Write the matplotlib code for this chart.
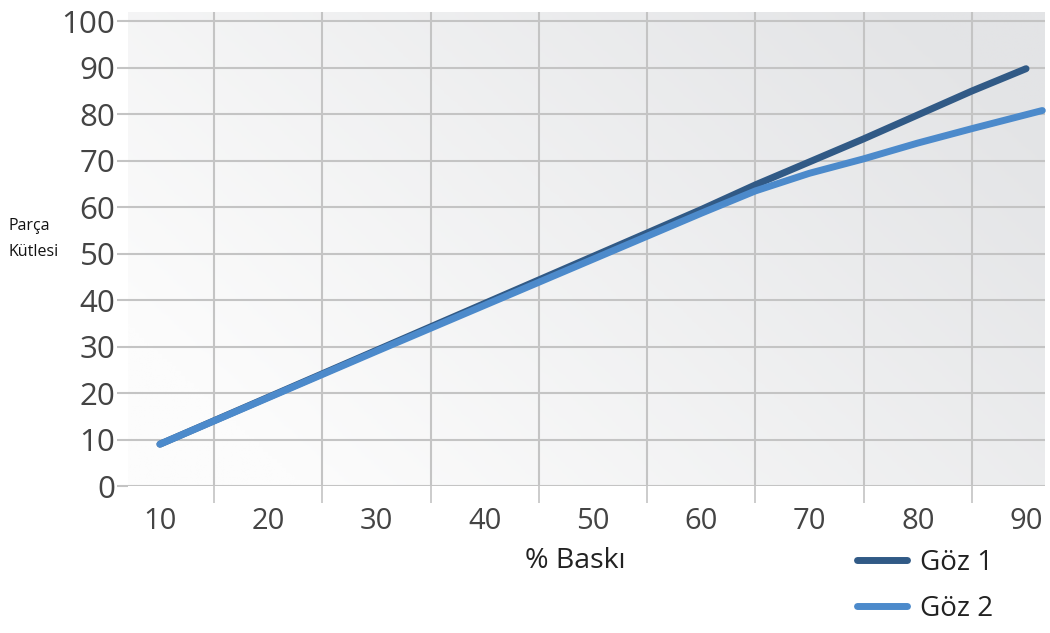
import numpy as np
import matplotlib
matplotlib.use("Agg")
import matplotlib.pyplot as plt
from matplotlib.colors import LinearSegmentedColormap

plt.rcParams['font.family'] = ['Open Sans', 'DejaVu Sans']

# Data
x_goz1 = [10, 20, 30, 40, 50, 60, 65, 75, 85, 90]
y_goz1 = [9, 19.1, 29.2, 39.3, 49.4, 59.5, 64.8, 74.7, 85.0, 89.8]
x_goz2 = [10, 20, 30, 40, 50, 60, 65, 70, 75, 80, 85, 91.5]
y_goz2 = [9, 19, 29, 38.9, 48.8, 58.7, 63.5, 67.3, 70.4, 73.8, 76.9, 80.8]
x_ticks = [10, 20, 30, 40, 50, 60, 70, 80, 90]
y_ticks = [0, 10, 20, 30, 40, 50, 60, 70, 80, 90, 100]
series_names = ["Göz 1", "Göz 2"]
colors = ["#315a86", "#4c8acb"]

W, H = 1050, 633
fig = plt.figure(figsize=(W/100, H/100), dpi=100)
ax = fig.add_axes([128/W, 1-486/H, (1045-128)/W, (486-12)/H])

# gradient background
gx, gy = np.meshgrid(np.linspace(0, 1, 200), np.linspace(0, 1, 200))
g = np.clip(0.8*gx + 0.45*gy - 0.15, 0, 1)
cmap = LinearSegmentedColormap.from_list("bg", ["#fcfcfc", "#e3e4e6"])
ax.imshow(g, extent=[0, 1, 0, 1], transform=ax.transAxes, origin='lower',
          cmap=cmap, aspect='auto', zorder=0, interpolation='bilinear')

ax.set_xlim(7.05, 91.75)
ax.set_ylim(0, 102)

for s in ax.spines.values():
    s.set_visible(False)

gridc = "#c4c4c4"
ax.set_yticks(y_ticks)
ax.set_yticklabels([str(v) for v in y_ticks])
ax.tick_params(axis='y', length=8, width=1.5, color=gridc, pad=1,
               labelsize=22.5, labelcolor="#444444")
ax.set_xticks(x_ticks)
ax.set_xticklabels([str(v) for v in x_ticks])
ax.set_xticks([15, 25, 35, 45, 55, 65, 75, 85], minor=True)
ax.tick_params(axis='x', which='major', length=0, pad=15, labelsize=21,
               labelcolor="#444444")
ax.tick_params(axis='x', which='minor', length=12, width=1.2, color=gridc)

for v in y_ticks:
    ax.axhline(v, color=gridc, lw=1.5, zorder=1)
for v in [15, 25, 35, 45, 55, 65, 75, 85]:
    ax.axvline(v, color=gridc, lw=1.5, zorder=1)

l1, = ax.plot(x_goz1, y_goz1, color=colors[0], lw=5, solid_capstyle='round',
              solid_joinstyle='round', zorder=3, clip_on=False)
l2, = ax.plot(x_goz2, y_goz2, color=colors[1], lw=5, solid_capstyle='round',
              solid_joinstyle='round', zorder=4, clip_on=False)

fig.text(575/W, 1-561/H, "% Baskı", fontsize=20.5, color="#222222",
         ha='center', va='center')
fig.text(8/W, 1-239/H, "Parça\nKütlesi", fontsize=11.5, color="#111111",
         ha='left', va='center', linespacing=1.75)

leg = fig.legend([l1, l2], series_names, loc='center left',
                 bbox_to_anchor=(832/W, 1-586/H), frameon=False,
                 fontsize=20, handlelength=1.8, handletextpad=0.45,
                 labelspacing=0.65, labelcolor="#222222")
for h in leg.get_lines():
    h.set_linewidth(5)
    h.set_solid_capstyle('round')

fig.savefig("out.png", dpi=100, facecolor="white")
